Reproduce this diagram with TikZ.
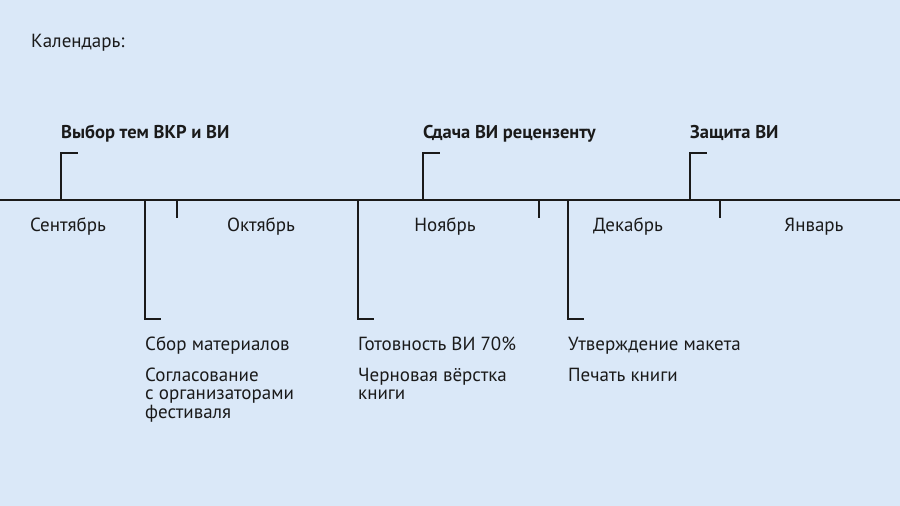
\documentclass[tikz,border=0pt]{standalone}
\usepackage{fontspec}
\setmainfont{PT Sans}
\usepackage{xcolor}
\usepackage{tikz}
\usetikzlibrary{positioning}
\definecolor{bg}{HTML}{DAE8F8}
\definecolor{ink}{HTML}{1A1A1A}
\tikzstyle{plain} = [anchor=base west, inner sep=0pt, text=ink, font=\fontsize{19}{19}\selectfont]
\tikzstyle{month} = [anchor=base, inner sep=0pt, text=ink, font=\fontsize{19}{19}\selectfont]
\tikzstyle{event} = [anchor=base west, inner sep=0pt, text=ink, font=\bfseries\fontsize{18.5}{19}\selectfont]
\tikzstyle{task} = [anchor=base west, inner sep=0pt, text=ink, font=\fontsize{19}{19}\selectfont]
\tikzstyle{line} = [draw=ink, line width=1.6pt]
\begin{document}
\begin{tikzpicture}[x=1pt, y=-1pt]
   \fill [bg] (0,0) rectangle (900,506);
   \useasboundingbox (0,0) rectangle (900,506);
   \node (cal) [plain] at (31,47) {Календарь:};
   % timeline
   \coordinate (l) at (0,200);
   \coordinate (r) at (900,200);
   \draw [line] (l) -- (r);
   \node (sep) [month] at (68,231) {Сентябрь};
   \node (okt) [month] at (261,231) {Октябрь};
   \node (noy) [month] at (445,231) {Ноябрь};
   \node (dek) [month] at (628,231) {Декабрь};
   \node (yan) [month] at (814,231) {Январь};
   % month ticks
   \coordinate (t1) at (177,200); \coordinate (t1e) at (177,218);
   \coordinate (t2) at (539,200); \coordinate (t2e) at (539,218);
   \coordinate (t3) at (720,200); \coordinate (t3e) at (720,218);
   \draw [line] (t1) -- (t1e);
   \draw [line] (t2) -- (t2e);
   \draw [line] (t3) -- (t3e);
   % events above
   \node (vyb) [event] at (61,138) {Выбор тем ВКР и ВИ};
   \node (sda) [event] at (423,138) {Сдача ВИ рецензенту};
   \node (zas) [event] at (690,138) {Защита ВИ};
   \coordinate (v0) at (61,200); \coordinate (v1) at (78,153);
   \coordinate (s0) at (423,200); \coordinate (s1) at (440,153);
   \coordinate (z0) at (690,200); \coordinate (z1) at (707,153);
   \draw [line] (v0) |- (v1);
   \draw [line] (s0) |- (s1);
   \draw [line] (z0) |- (z1);
   % tasks below
   \coordinate (a0) at (145,200); \coordinate (a1) at (161,319);
   \coordinate (b0) at (358,200); \coordinate (b1) at (374,319);
   \coordinate (c0) at (568,200); \coordinate (c1) at (584,319);
   \draw [line] (a0) |- (a1);
   \draw [line] (b0) |- (b1);
   \draw [line] (c0) |- (c1);
   \node (a2) [task] at (145,350) {Сбор материалов};
   \node (a3) [task] at (145,381) {Согласование};
   \node (a4) [task] at ([yshift=-18.5pt]a3.base west) {с организаторами};
   \node (a5) [task] at ([yshift=-18.5pt]a4.base west) {фестиваля};
   \node (b2) [task] at (358,350) {Готовность ВИ 70\%};
   \node (b3) [task] at (358,381) {Черновая вёрстка};
   \node (b4) [task] at ([yshift=-18.5pt]b3.base west) {книги};
   \node (c2) [task] at (568,350) {Утверждение макета};
   \node (c3) [task] at (568,381) {Печать книги};
\end{tikzpicture}
\end{document}
